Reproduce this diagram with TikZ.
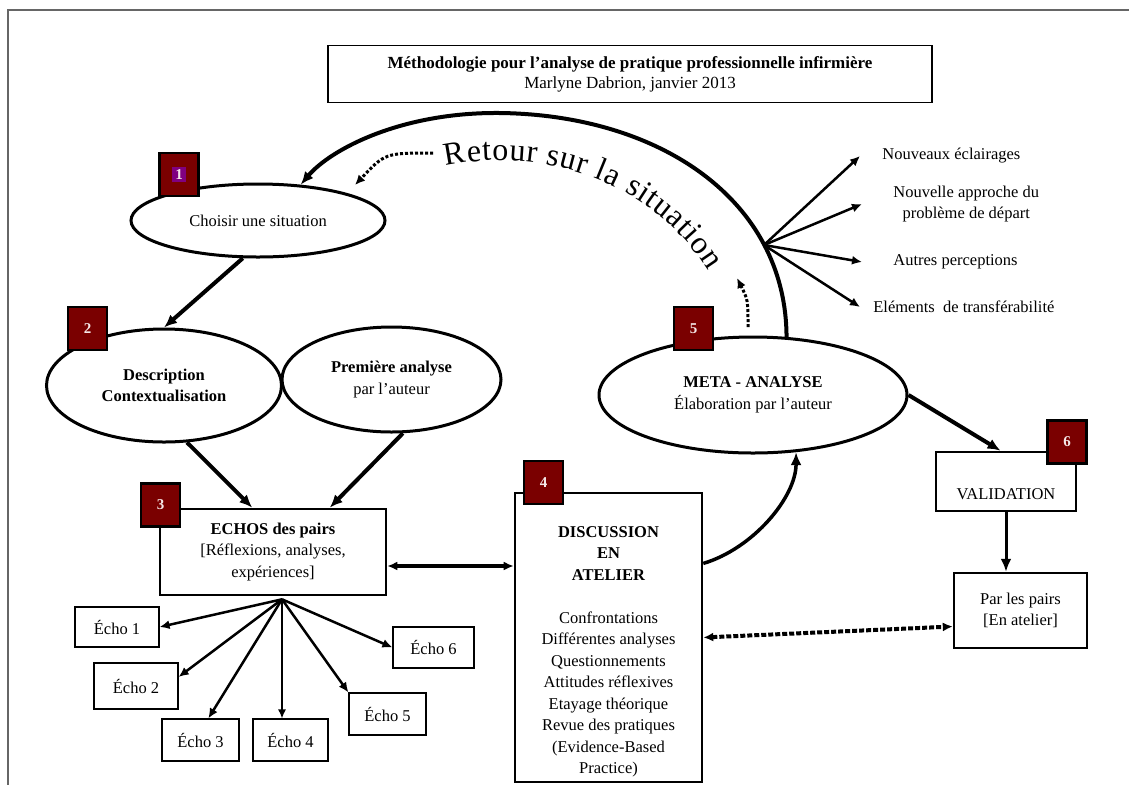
\documentclass[tikz,border=0pt]{standalone}
\usepackage{fontspec}
\setmainfont{Liberation Serif}
\usetikzlibrary{arrows.meta, calc, shapes.geometric, decorations.text}
\definecolor{num-red}{RGB}{122,0,0}
\definecolor{num-purple}{RGB}{128,0,128}
\definecolor{num-text}{RGB}{245,232,232}
\definecolor{frame-gray}{gray}{0.4}
\setlength{\fboxsep}{3pt}

\begin{document}
\begin{tikzpicture}[x=1pt, y=-1pt, thick]
  \tikzstyle{txt} = [font=\fontsize{16.5}{21.5}\selectfont]
  \tikzstyle{bubble} = [ellipse, draw, line width=3pt, fill=white, inner sep=0pt, align=center, txt]
  \tikzstyle{bigbox} = [draw, line width=2.6pt, fill=white, inner sep=0pt, txt]
  \tikzstyle{echobox} = [draw, line width=1.2pt, inner sep=0pt, txt]
  \tikzstyle{numbox} = [draw, line width=2.2pt, fill=num-red, text=num-text, minimum width=39pt,
                        minimum height=43pt, inner sep=0pt, font=\fontsize{15}{15}\selectfont\bfseries]
  \tikzstyle{outlabel} = [anchor=west, inner ysep=2pt, txt]
  \tikzstyle{fatarrow} = [-{Latex[length=13pt,width=11pt]}, line width=4pt]
  \tikzstyle{fanarrow} = [-{Latex[length=10pt,width=9pt]}, line width=2.5pt]
  \tikzstyle{dotarrow} = [-{Latex[length=10pt,width=9pt]}, line width=3pt, dash pattern=on 3pt off 2pt]
  \useasboundingbox (0,0) rectangle (1129,785);
% Page frame and title.
  \draw[frame-gray, line width=1.5pt] (1129,10) -- (8,10) -- (8,785);
  \node[draw, line width=1.5pt, minimum width=604pt, minimum height=57pt, align=center,
        font=\fontsize{17}{20}\selectfont] (title) at (630,74)
    {\textbf{Méthodologie pour l'analyse de pratique professionnelle infirmière}\\Marlyne Dabrion, janvier 2013};
% Ellipses.
  \node[bubble, minimum width=254pt, minimum height=73pt] (choisir) at (258,220.5) {Choisir une situation};
  \node[bubble, minimum width=235pt, minimum height=113pt] (desc) at (164,385.5)
    {\textbf{Description}\\\textbf{Contextualisation}};
  \node[bubble, minimum width=219pt, minimum height=105pt] (prem) at (391.5,379.5)
    {\textbf{Première analyse}\\par l'auteur};
  \node[bubble, minimum width=308pt, minimum height=116pt] (meta) at (753,395)
    {\textbf{META - ANALYSE}\\Élaboration par l'auteur};
% Boxes.
  \node[bigbox, minimum width=226pt, minimum height=86pt, align=center] (echos) at (273,552)
    {\textbf{ECHOS des pairs}\\{[}Réflexions, analyses,\\expériences{]}};
  \node[bigbox, minimum width=187pt, minimum height=289pt] (disc) at (608.5,637.5) {};
  \node[txt, anchor=north, inner sep=0pt, align=center] (disctext) at ($(disc.north)+(0,34)$)
    {\textbf{DISCUSSION}\\\textbf{EN}\\\textbf{ATELIER}\\[21.5pt]Confrontations\\Différentes analyses\\
     Questionnements\\Attitudes réflexives\\Etayage théorique\\Revue des pratiques\\(Evidence-Based\\Practice)};
  \node[bigbox, minimum width=140pt, minimum height=59pt, text height=38pt, text depth=3pt] (valid)
    at (1006,481.5) {VALIDATION};
  \node[bigbox, line width=2.4pt, minimum width=133pt, minimum height=75pt, align=center] (par)
    at (1020.5,610.5) {Par les pairs\\{[}En atelier{]}};
% Echoes.
  \node[echobox, minimum width=84pt, minimum height=40pt] (e1) at (117,627) {Écho 1};
  \node[echobox, minimum width=84pt, minimum height=46pt] (e2) at (136,686) {Écho 2};
  \node[echobox, minimum width=77pt, minimum height=42pt] (e3) at (200.5,740) {Écho 3};
  \node[echobox, minimum width=75pt, minimum height=42pt] (e4) at (290.5,740) {Écho 4};
  \node[echobox, minimum width=77pt, minimum height=42pt] (e5) at (387.5,714) {Écho 5};
  \node[echobox, minimum width=81pt, minimum height=41pt] (e6) at (433.5,647.5) {Écho 6};
% Outcomes of the meta-analysis.
  \node[outlabel, inner xsep=22pt] (nouv) at (860,156) {Nouveaux éclairages};
  \node[outlabel, inner xsep=31pt, align=center] (appr) at (862,204) {Nouvelle approche du\\problème de départ};
  \node[outlabel, inner xsep=31pt] (autr) at (862,262) {Autres perceptions};
  \node[outlabel, inner xsep=13pt] (elem) at (860,307) {Eléments~ de transférabilité};
% Main flow.
  \draw[fatarrow] (choisir.248) -- (desc.north);
  \draw[fatarrow] (desc.292) -- (echos.115);
  \draw[fatarrow] (prem.282) -- (echos.38);
  \draw[fatarrow] (meta.east) -- (valid.100);
  \draw[fatarrow, line width=3pt] (valid.south) -- (valid.south |- par.north);
  \draw[fatarrow, line width=3.5pt] (disc.38) .. controls +(50,-15) and +(0,45) .. (meta.-53);
  \coordinate (ea) at ([yshift=-14pt]echos.east);
  \draw[{Latex[length=10pt,width=9pt]}-{Latex[length=10pt,width=9pt]}, line width=3.5pt] (ea) -- (ea -| disc.west);
  \draw[{Latex[length=10pt,width=9pt]}-{Latex[length=10pt,width=9pt]}, line width=4pt,
        dash pattern=on 5pt off 2pt] (disc.east) -- ([yshift=-16pt]par.west);
% Retour sur la situation.
  \draw[fatarrow] (meta.60) .. controls (786,200) and (660,115) .. (500,113)
                  .. controls (400,112) and (330,150) .. (choisir.40);
  \path[decorate, decoration={text along path, text align=fit to path,
        text={|\fontsize{32}{32}\selectfont|Retour sur la situation}}]
    (446,166) arc[start angle=-103, end angle=-30, x radius=240, y radius=220];
  \coordinate (r1) at (433,153);
  \coordinate (r2) at (355,185);
  \draw[dotarrow] (r1) .. controls (385,153) .. (r2);
  \coordinate (r3) at (748,327);
  \coordinate (r4) at (737,278);
  \draw[dotarrow] (r3) .. controls (748,300) .. (r4);
  \coordinate (fan) at (764,245);
  \draw[fanarrow] (fan) -- (nouv.west);
  \draw[fanarrow] (fan) -- (appr.west);
  \draw[fanarrow] (fan) -- (autr.west);
  \draw[fanarrow] (fan) -- (elem.west);
% Fan of echoes.
  \coordinate (efan) at ([xshift=9pt, yshift=-3pt]echos.south);
  \draw[fanarrow] (efan) -- (e1.east);
  \draw[fanarrow] (efan) -- (e2.12);
  \draw[fanarrow] (efan) -- (e3.70);
  \draw[-{Latex[length=9pt,width=8pt]}, line width=1.3pt] (efan) -- (efan |- e4.north);
  \draw[fanarrow] (efan) -- (e5.north west);
  \draw[fanarrow] (efan) -- (e6.west);
% Step numbers.
  \node[numbox] (n1) at (179,174.5) {\colorbox{num-purple}{1}};
  \node[numbox] (n2) at (87.5,328.5) {2};
  \node[numbox] (n3) at (160.5,505) {3};
  \node[numbox] (n4) at (543.5,482.5) {4};
  \node[numbox] (n5) at (693.5,328.5) {5};
  \node[numbox] (n6) at (1067,442) {6};
\end{tikzpicture}
\end{document}
